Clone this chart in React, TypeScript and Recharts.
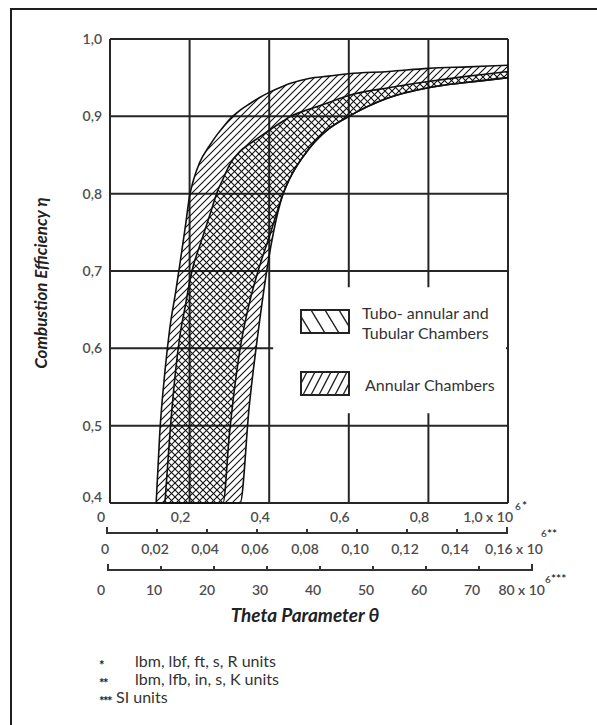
import React from 'react';
import { AreaChart, Area, XAxis, YAxis, CartesianGrid, ReferenceArea } from 'recharts';

// theta samples (x 10^6, lbm/lbf/ft/s/R scale) read along the band edges
const THETA = [0.116, 0.125, 0.138, 0.15, 0.165, 0.175, 0.19, 0.2, 0.21, 0.225, 0.25, 0.27, 0.284, 0.3, 0.327, 0.35, 0.375, 0.4, 0.435, 0.45, 0.5, 0.55, 0.6, 0.7, 0.8, 0.9, 1.0];

// annular chambers band (upper / lower edge); 0.4 = band runs off the bottom of the chart
const ANNULAR_HI = [0.4, 0.49, 0.57, 0.625, 0.673, 0.707, 0.76, 0.797, 0.818, 0.84, 0.862, 0.877, 0.886, 0.896, 0.908, 0.916, 0.924, 0.931, 0.939, 0.942, 0.949, 0.952, 0.955, 0.958, 0.962, 0.964, 0.966];
const ANNULAR_LO = [0.4, 0.4, 0.4, 0.4, 0.4, 0.4, 0.4, 0.4, 0.4, 0.4, 0.4, 0.4, 0.4, 0.4, 0.4, 0.526, 0.632, 0.72, 0.8, 0.818, 0.858, 0.884, 0.9, 0.924, 0.937, 0.944, 0.95];

// tubo-annular and tubular chambers band
const TUBULAR_HI = [null, null, 0.4, 0.486, 0.572, 0.614, 0.657, 0.686, 0.708, 0.732, 0.771, 0.803, 0.819, 0.837, 0.855, 0.864, 0.873, 0.882, 0.894, 0.899, 0.909, 0.918, 0.927, 0.937, 0.945, 0.952, 0.958];
const TUBULAR_LO = [null, null, 0.4, 0.4, 0.4, 0.4, 0.4, 0.4, 0.4, 0.4, 0.4, 0.4, 0.4, 0.489, 0.6, 0.658, 0.705, 0.744, 0.8, 0.818, 0.858, 0.884, 0.9, 0.924, 0.937, 0.944, 0.95];

const ETA_TICKS = [0.4, 0.5, 0.6, 0.7, 0.8, 0.9, 1.0];
const THETA_TICKS = [0, 0.2, 0.4, 0.6, 0.8, 1.0];
const THETA_IN_TICKS = [0, 0.02, 0.04, 0.06, 0.08, 0.1, 0.12, 0.14, 0.16];
const THETA_SI_TICKS = [0, 10, 20, 30, 40, 50, 60, 70, 80];

const LEGEND_TUBULAR = ['Tubo- annular and', 'Tubular Chambers'];
const LEGEND_ANNULAR = 'Annular Chambers';
const FOOTNOTES = [
  ['*', 'lbm, lbf, ft, s, R units'],
  ['**', 'lbm, lfb, in, s, K units'],
  ['***', 'SI units'],
];

const data = THETA.map((t, i) => ({
  theta: t,
  annular: [ANNULAR_LO[i], ANNULAR_HI[i]],
  tubular: TUBULAR_HI[i] == null ? null : [TUBULAR_LO[i], TUBULAR_HI[i]],
}));

const FONT = 'Lato, "Open Sans", sans-serif';
const comma = (v: number, d: number) => (v === 0 ? '0' : v.toFixed(d).replace('.', ','));

type ScaleCfg = {
  ticks: number[];
  fmt: (v: number) => string;
  dx: number;
  labelDy: number;
  lastEnd: number;
  supDx: number;
  supDy: number;
  stars: string;
  starDx: number;
  starDy: number;
  ruler: boolean;
  prev?: number | null;
};

const scaleA: ScaleCfg = {
  ticks: THETA_TICKS, fmt: (v) => comma(v, 1), dx: -9, labelDy: 19,
  lastEnd: 5, supDx: 7, supDy: 6.5, stars: '*', starDx: 14, starDy: 7, ruler: false,
};
const scaleB: ScaleCfg = {
  ticks: THETA_IN_TICKS, fmt: (v) => comma(v, 2), dx: -2, labelDy: 21,
  lastEnd: 36, supDx: 34, supDy: 4, stars: '**', starDx: 40, starDy: 5, ruler: true,
};
const scaleC: ScaleCfg = {
  ticks: THETA_SI_TICKS, fmt: (v) => String(v), dx: -7, labelDy: 25,
  lastEnd: 13, supDx: 13, supDy: 12.5, stars: '***', starDx: 19, starDy: 13, ruler: true,
};

const tickText = { fontFamily: FONT, fill: '#4d4d4d', fontWeight: 600 } as any;

const makeTick = (cfg: ScaleCfg) => (props: any) => {
  const { x, y, payload, index } = props;
  const v = payload.value;
  const isLast = v === cfg.ticks[cfg.ticks.length - 1];
  let seg = null;
  if (cfg.ruler) {
    if (index === 0) cfg.prev = null;
    if (cfg.prev != null) {
      seg = <line x1={cfg.prev} y1={y} x2={x} y2={y} stroke="#333" strokeWidth={2} />;
    }
    cfg.prev = x;
  }
  const mark = cfg.ruler ? (
    <line x1={x} y1={y + 1} x2={x} y2={y - (index === 0 || isLast ? 6 : 4)} stroke="#333" strokeWidth={2} />
  ) : null;
  return (
    <g>
      {seg}
      {mark}
      {isLast ? (
        <>
          <text x={x + cfg.lastEnd} y={y + cfg.labelDy} textAnchor="end" fontSize={14} {...tickText}>
            {cfg.fmt(v) + ' x 10'}
          </text>
          <text x={x + cfg.supDx} y={y + cfg.supDy} fontSize={10} {...tickText}>6</text>
          <text x={x + cfg.starDx} y={y + cfg.starDy} fontSize={12} {...tickText} fill="#222">{cfg.stars}</text>
        </>
      ) : (
        <text x={x + cfg.dx} y={y + cfg.labelDy} textAnchor="middle" fontSize={14} {...tickText}>
          {cfg.fmt(v)}
        </text>
      )}
    </g>
  );
};

// lowest eta label sits a little higher, clear of the theta labels
const EtaTick = (props: any) => {
  const { x, y, payload } = props;
  const lift = payload.value === ETA_TICKS[0] ? -6 : 0;
  return (
    <text x={x} y={y + lift} dy={5} textAnchor="end" fontSize={14} {...tickText}>
      {comma(payload.value, 1)}
    </text>
  );
};

const Overlay = () => (
  <svg width={597} height={725} style={{ position: 'absolute', left: 0, top: 0, pointerEvents: 'none', fontFamily: FONT }}>
    <defs>
      <pattern id="legTub" patternUnits="userSpaceOnUse" width="14" height="23" x="301" y="310">
        <path d="M-4,0 L10,23 M10,0 L24,23" stroke="#222" strokeWidth="1.4" />
      </pattern>
      <pattern id="legAnn" patternUnits="userSpaceOnUse" width="8" height="23" x="301" y="372">
        <path d="M-6,23 L6,0 M2,23 L14,0" stroke="#222" strokeWidth="1.3" />
      </pattern>
    </defs>
    <text transform="translate(47,283) rotate(-90)" textAnchor="middle" fontSize={17} fontWeight={700} fontStyle="italic" fill="#222">
      Combustion Efficiency η
    </text>
    <rect x={301} y={310} width={48} height={23} fill="url(#legTub)" stroke="#222" strokeWidth={2} />
    <rect x={301} y={372} width={48} height={23} fill="url(#legAnn)" stroke="#222" strokeWidth={2} />
    <text x={362} y={319} fontSize={16} fill="#333">{LEGEND_TUBULAR[0]}</text>
    <text x={362} y={339} fontSize={16} fill="#333">{LEGEND_TUBULAR[1]}</text>
    <text x={365} y={391} fontSize={16} fill="#333">{LEGEND_ANNULAR}</text>
    <text x={305} y={622} textAnchor="middle" fontSize={19} fontWeight={700} fontStyle="italic" fill="#222">
      Theta Parameter θ
    </text>
    {FOOTNOTES.map(([s, t], i) => (
      <g key={s}>
        <text x={99} y={670 + i * 18} fontSize={13} fontWeight={700} letterSpacing={-1.5} fill="#222">{s}</text>
        <text x={i === 2 ? 116 : 135} y={667 + i * 18} fontSize={16} fill="#333">{t}</text>
      </g>
    ))}
  </svg>
);

const CombustionEfficiencyChart: React.FC = () => {
  return (
    <div style={{ position: 'absolute', left: 0, top: 0, width: 597, height: 725, overflow: 'hidden', background: '#fff' }}>
      <div style={{ position: 'absolute', left: 10, top: 8, width: 587, height: 717, borderTop: '2px solid #1e1e1e', borderLeft: '2px solid #1e1e1e', boxSizing: 'border-box' }} />
      <div style={{ position: 'absolute', left: 0, top: 0, fontFamily: FONT }}>
        <AreaChart width={597} height={725} data={data} margin={{ top: 39, right: 89, bottom: 125, left: 0 }}>
          <defs>
            <pattern id="hatchAnn" patternUnits="userSpaceOnUse" width="7" height="7">
              <path d="M-1,1 l2,-2 M0,7 l7,-7 M6,8 l2,-2" stroke="#111" strokeWidth="1.1" />
            </pattern>
            <pattern id="hatchTub" patternUnits="userSpaceOnUse" width="7" height="7">
              <path d="M-1,6 l2,2 M0,0 l7,7 M6,-1 l2,2" stroke="#111" strokeWidth="1.1" />
            </pattern>
          </defs>
          <CartesianGrid stroke="#262626" strokeWidth={2} />
          <XAxis
            dataKey="theta"
            type="number"
            domain={[0, 1]}
            ticks={THETA_TICKS}
            interval={0}
            height={30}
            axisLine={false}
            tickLine={false}
            tickSize={0}
            tickMargin={0}
            tick={makeTick(scaleA)}
          />
          <XAxis
            xAxisId="b"
            dataKey="theta"
            type="number"
            domain={[0, 0.16]}
            allowDataOverflow
            ticks={THETA_IN_TICKS}
            interval={0}
            height={37}
            padding={{ left: -3, right: 1 }}
            axisLine={false}
            tickLine={false}
            tickSize={0}
            tickMargin={0}
            tick={makeTick(scaleB)}
          />
          <XAxis
            xAxisId="c"
            dataKey="theta"
            type="number"
            domain={[0, 80]}
            allowDataOverflow
            ticks={THETA_SI_TICKS}
            interval={0}
            height={30}
            padding={{ left: -2, right: -24 }}
            axisLine={false}
            tickLine={false}
            tickSize={0}
            tickMargin={0}
            tick={makeTick(scaleC)}
          />
          <YAxis
            type="number"
            domain={[0.4, 1.0]}
            ticks={ETA_TICKS}
            interval={0}
            width={110}
            axisLine={false}
            tickLine={false}
            tick={<EtaTick />}
          />
          <ReferenceArea x1={0.41} x2={0.995} y1={0.516} y2={0.679} fill="#fff" fillOpacity={1} stroke="none" />
          <Area
            type="monotone"
            dataKey="annular"
            stroke="#111"
            strokeWidth={1.6}
            fill="url(#hatchAnn)"
            fillOpacity={1}
            dot={false}
            activeDot={false}
            isAnimationActive={false}
          />
          <Area
            type="monotone"
            dataKey="tubular"
            stroke="#111"
            strokeWidth={1.6}
            fill="url(#hatchTub)"
            fillOpacity={1}
            dot={false}
            activeDot={false}
            isAnimationActive={false}
          />
        </AreaChart>
      </div>
      <Overlay />
    </div>
  );
};

export default CombustionEfficiencyChart;
